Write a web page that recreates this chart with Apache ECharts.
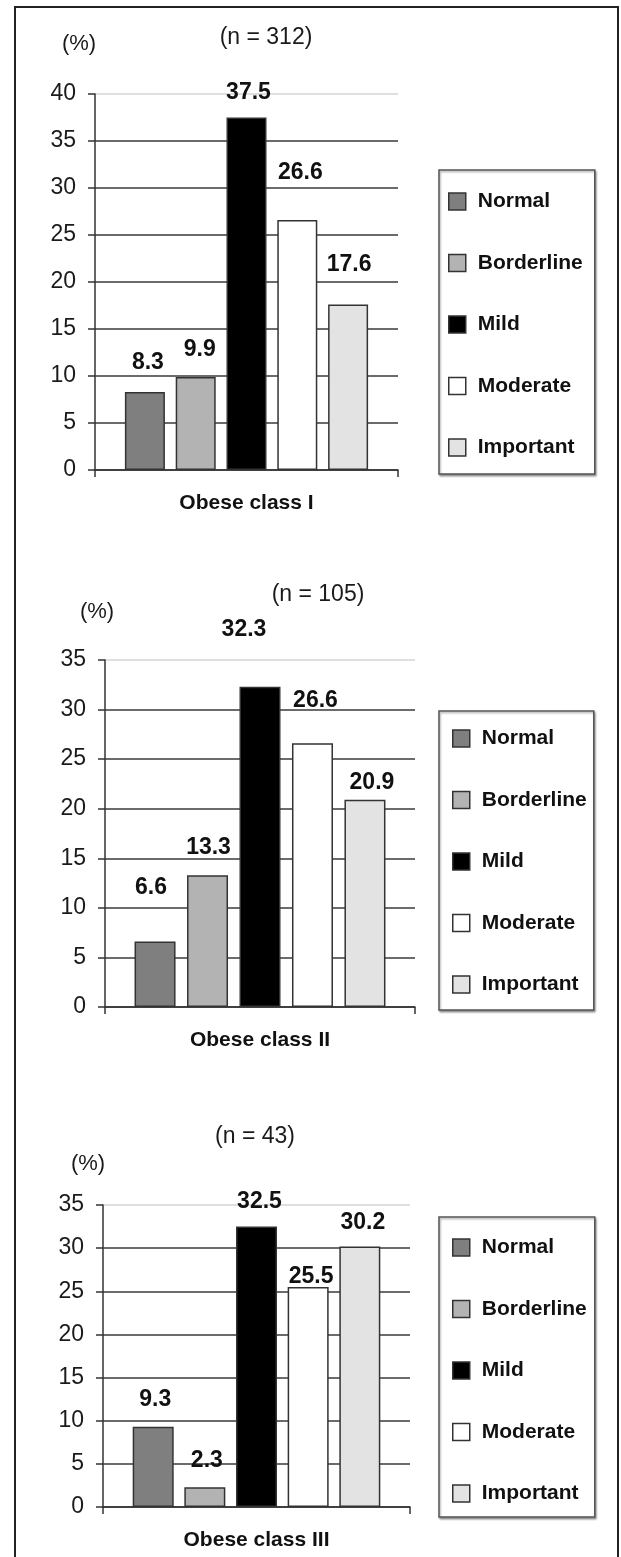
<!DOCTYPE html>
<html>
<head>
<meta charset="utf-8">
<script src="https://cdn.jsdelivr.net/npm/echarts@6/dist/echarts.min.js"></script>
<style>
  html, body { margin: 0; padding: 0; background: #fff; }
  #chart { width: 621px; height: 1557px; }
</style>
</head>
<body>
<div id="chart"></div>
<script>
// data
const categories = ['Normal', 'Borderline', 'Mild', 'Moderate', 'Important']
const groups = ['Obese class I', 'Obese class II', 'Obese class III']
const sampleSizes = ['(n = 312)', '(n = 105)', '(n = 43)']
const classI = [8.3, 9.9, 37.5, 26.6, 17.6]
const classII = [6.6, 13.3, 32.3, 26.6, 20.9]
const classIII = [9.3, 2.3, 32.5, 25.5, 30.2]
const yMax = [40, 35, 35]
const yStep = 5

const values = [classI, classII, classIII]
const fills = ['#7f7f7f', '#b3b3b3', '#000000', '#ffffff', '#e3e3e3']
const font = 'Liberation Sans, Arial, sans-serif'

// layout of the three panels (pixels)
const panels = [
  { grid: { left: 95, top: 94, width: 303, height: 376 }, barWidth: 40, barGap: '27%',
    unit: [79, 44], n: [266, 38], legend: { top: 170, pad: [21, 12, 16, 9] },
    lift: [29, 27, 25, 47, 40], dx: [3, 4, 2, 3, 1] },
  { grid: { left: 105, top: 660, width: 310, height: 347 }, barWidth: 41, barGap: '28%',
    unit: [97, 612], n: [318, 595], legend: { top: 711, pad: [17, 7, 15, 13] },
    lift: [54, 27, 57, 43, 17], dx: [-4, 1, -16, 3, 7] },
  { grid: { left: 103, top: 1205, width: 307, height: 302 }, barWidth: 41, barGap: '26%',
    unit: [88, 1164], n: [255, 1137], legend: { top: 1217, pad: [20, 8, 13, 13] },
    lift: [27, 26, 25, 10, 24], dx: [2, 2, 3, 3, 3] }
]

let grids = []
let xAxes = []
let yAxes = []
let legends = []
let series = []
let texts = []

panels.forEach((p, k) => {
  grids.push(Object.assign({ outerBoundsMode: 'none', containLabel: false }, p.grid))

  xAxes.push({
    type: 'category',
    gridIndex: k,
    data: [groups[k]],
    axisLine: { show: true, lineStyle: { color: '#333', width: 1.5 } },
    axisTick: { show: true, length: 7, lineStyle: { color: '#333', width: 1.5 } },
    axisLabel: { fontSize: 21, fontWeight: 'bold', color: '#111', fontFamily: font, margin: 23 },
    splitLine: { show: false }
  })

  let nLines = yMax[k] / yStep + 1
  let lineColors = []
  for (let i = 0; i < nLines - 1; i++) lineColors.push('#3a3a3a')
  lineColors.push('#d4d4d4')

  yAxes.push({
    type: 'value',
    gridIndex: k,
    min: 0,
    max: yMax[k],
    interval: yStep,
    axisLine: { show: true, lineStyle: { color: '#333', width: 1.5 } },
    axisTick: { show: true, length: 7, lineStyle: { color: '#333', width: 1.5 } },
    axisLabel: { fontSize: 23, color: '#1a1a1a', fontFamily: font, margin: 19 },
    splitLine: { show: true, lineStyle: { color: lineColors, width: 1.5 } }
  })

  legends.push({
    orient: 'vertical',
    left: 439,
    top: p.legend.top,
    data: categories,
    icon: 'rect',
    itemWidth: 17,
    itemHeight: 17,
    itemGap: 40.5,
    padding: p.legend.pad,
    borderColor: '#555',
    borderWidth: 1.5,
    shadowColor: 'rgba(0,0,0,0.35)',
    shadowBlur: 2,
    shadowOffsetX: 1,
    shadowOffsetY: 1.5,
    backgroundColor: '#fff',
    selectedMode: false,
    itemStyle: { borderColor: '#333', borderWidth: 1.5 },
    textStyle: { fontSize: 21, fontWeight: 'bold', color: '#111', fontFamily: font, lineHeight: 21, padding: [0, 0, 0, 7] }
  })

  categories.forEach((c, i) => {
    series.push({
      type: 'bar',
      name: c,
      xAxisIndex: k,
      yAxisIndex: k,
      barWidth: p.barWidth,
      barGap: p.barGap,
      animation: false,
      itemStyle: { color: fills[i], borderColor: '#333', borderWidth: 1.5 },
      label: {
        show: true,
        position: 'top',
        fontSize: 23,
        lineHeight: 22,
        fontWeight: 'bold',
        color: '#111',
        fontFamily: font
      },
      data: [{
        value: values[k][i],
        label: { distance: p.lift[i] - 11, offset: [p.dx[i], 0] }
      }]
    })
  })

  texts.push({
    type: 'text', x: p.unit[0], y: p.unit[1],
    style: { text: '(%)', font: '22px ' + font, fill: '#1a1a1a', align: 'center', verticalAlign: 'middle' }
  })
  texts.push({
    type: 'text', x: p.n[0], y: p.n[1],
    style: { text: sampleSizes[k], font: '23px ' + font, fill: '#1a1a1a', align: 'center', verticalAlign: 'middle' }
  })
})

// outer frame
texts.push({
  type: 'rect',
  shape: { x: 15, y: 7, width: 603, height: 1600 },
  style: { fill: 'none', stroke: '#222', lineWidth: 2 },
  z: -1
})

let myChart = echarts.init(document.getElementById('chart'), null, { renderer: 'canvas' })
myChart.setOption({
  backgroundColor: '#fff',
  animation: false,
  grid: grids,
  xAxis: xAxes,
  yAxis: yAxes,
  legend: legends,
  series: series,
  graphic: texts
})
</script>
</body>
</html>
